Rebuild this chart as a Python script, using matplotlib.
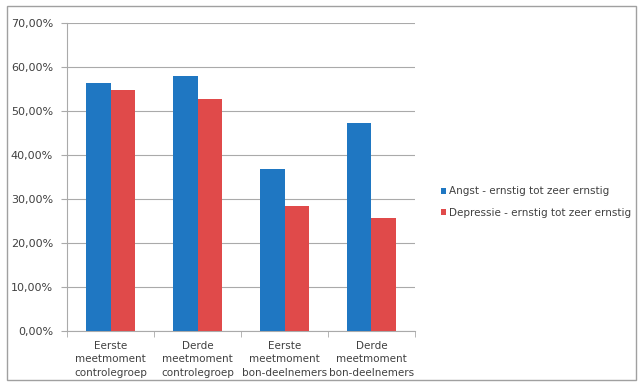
import matplotlib
matplotlib.use("Agg")
import matplotlib.pyplot as plt
from matplotlib.patches import Rectangle
from matplotlib.ticker import FuncFormatter
import numpy as np

categories = [
    "Eerste\nmeetmoment\ncontrolegroep",
    "Derde\nmeetmoment\ncontrolegroep",
    "Eerste\nmeetmoment\nbon-deelnemers",
    "Derde\nmeetmoment\nbon-deelnemers",
]
angst = [56.3, 58.0, 36.8, 47.3]
depressie = [54.7, 52.8, 28.5, 25.7]
series_names = ["Angst - ernstig tot zeer ernstig", "Depressie - ernstig tot zeer ernstig"]
y_ticks = [0, 10, 20, 30, 40, 50, 60, 70]

blue = "#1f77c2"
red = "#e04a4a"
text_color = "#404040"

fig = plt.figure(figsize=(6.42, 3.85), dpi=100)
# thin grey frame round the whole chart
fig.patches.append(Rectangle((0.011, 0.013), 0.979, 0.972, transform=fig.transFigure,
                             fill=False, edgecolor="#a0a0a0", linewidth=1.0))

ax = fig.add_axes([0.1044, 0.1403, 0.542, 0.80])
x = np.arange(len(categories))
w = 0.28
ax.bar(x - w / 2, angst, w, color=blue, label=series_names[0], zorder=3)
ax.bar(x + w / 2, depressie, w, color=red, label=series_names[1], zorder=3)

ax.set_xlim(-0.5, len(categories) - 0.5)
ax.set_ylim(0, 70)
ax.set_yticks(y_ticks)
ax.yaxis.set_major_formatter(FuncFormatter(lambda v, p: f"{v:.2f}%".replace(".", ",")))
ax.grid(axis="y", color="#aaaaaa", linewidth=0.8, zorder=0)

ax.set_xticks(x)
ax.set_xticklabels(categories, fontsize=7.5, color=text_color, linespacing=1.45)
ax.set_xticks(np.arange(-0.5, len(categories)), minor=True)
ax.tick_params(axis="x", which="major", length=0, pad=7)
ax.tick_params(axis="x", which="minor", length=4, color="#aaaaaa")
ax.tick_params(axis="y", length=4, color="#aaaaaa", labelsize=8, labelcolor=text_color, pad=6)

for s in ["top", "right"]:
    ax.spines[s].set_visible(False)
for s in ["left", "bottom"]:
    ax.spines[s].set_color("#aaaaaa")
    ax.spines[s].set_linewidth(0.8)

fig.legend(loc="center left", bbox_to_anchor=(0.672, 0.475), frameon=False,
           fontsize=7.5, labelcolor=text_color, handlelength=0.5, handleheight=0.5,
           handletextpad=0.3, labelspacing=1.1)

fig.savefig("out.png", dpi=100)
